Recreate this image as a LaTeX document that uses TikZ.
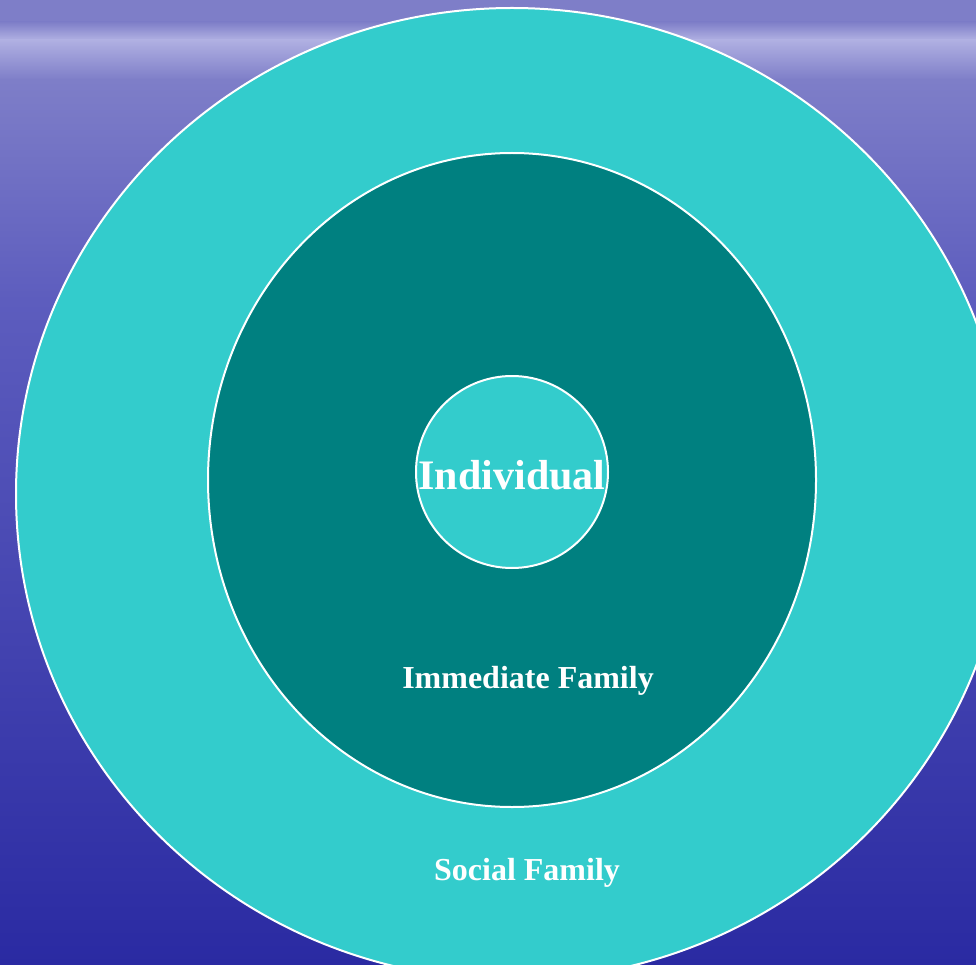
\documentclass[tikz,border=0pt]{standalone}
\usepackage{fontspec}
\setmainfont{Liberation Serif}
\usepackage{tikz}
\usetikzlibrary{calc}
\definecolor{ringlight}{HTML}{33CCCC}
\definecolor{ringdark}{HTML}{008080}
\definecolor{seatop}{HTML}{7E7EC8}
\definecolor{seahaze}{HTML}{B0B0E2}
\definecolor{seamid}{HTML}{5D5DBE}
\definecolor{seadeep}{HTML}{2A2AA2}
\def\ring[#1](#2)(#3:#4){\draw[#1] (#2) ellipse [x radius=#3pt, y radius=#4pt];}

\begin{document}
\begin{tikzpicture}[x=1pt, y=-1pt]
		%%%%% START %%%%%
		
		\useasboundingbox (0, 0) rectangle (976, 965);
		
		% sea background
		\shade[top color=seatop, bottom color=seatop] (0, 0) rectangle (976, 22);
		\shade[top color=seatop, bottom color=seahaze] (0, 22) rectangle (976, 40);
		\shade[top color=seahaze, bottom color=seatop] (0, 40) rectangle (976, 80);
		\shade[top color=seatop, bottom color=seamid] (0, 80) rectangle (976, 300);
		\shade[top color=seamid, bottom color=seadeep] (0, 300) rectangle (976, 965);
		
		% rings
		\ring[line width=2pt, draw=white, fill=ringlight](512, 494)(496:486)
		\ring[line width=2pt, draw=white, fill=ringdark](512, 480)(304:327)
		\ring[line width=2pt, draw=white, fill=ringlight](512, 472)(96:96)
		
		\node[text=white, font=\bfseries\fontsize{42}{46}\selectfont] (individual) at (512, 475) {Individual};
		\node[text=white, font=\bfseries\fontsize{32}{36}\selectfont] (immediate) at (528, 681) {Immediate Family};
		\node[text=white, font=\bfseries\fontsize{32}{36}\selectfont] (social) at (527, 873) {Social Family};
		
		%%%%% END %%%%%
	\end{tikzpicture}
\end{document}
